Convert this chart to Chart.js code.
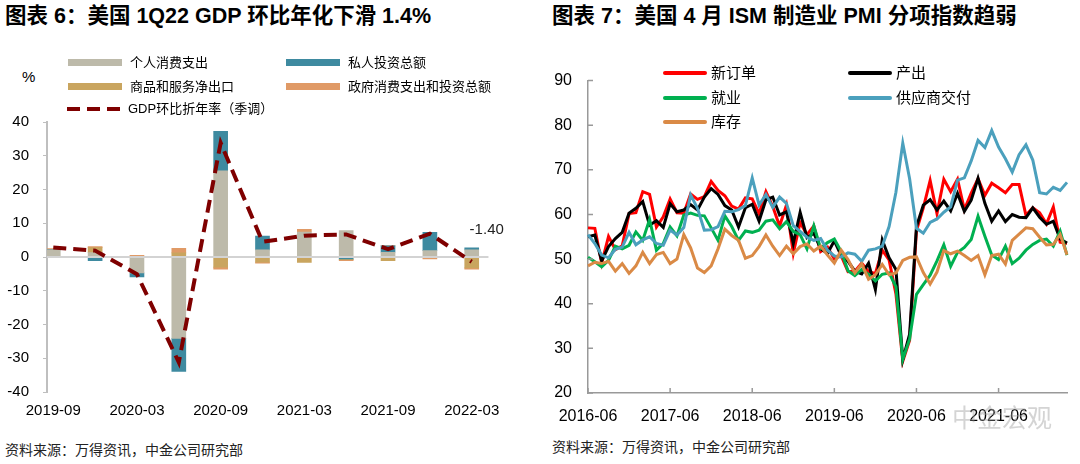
<!DOCTYPE html>
<html>
<head>
<meta charset="utf-8">
<script src="https://cdn.jsdelivr.net/npm/chart.js@4.4.1/dist/chart.umd.min.js"></script>
<style>
  body { margin: 0; width: 1080px; height: 464px; background: #fff; position: relative; overflow: hidden;
         font-family: "Liberation Sans", "Noto Sans CJK SC", sans-serif; color: #000; }
  .title { position: absolute; top: 4px; font-size: 21.5px; font-weight: bold; white-space: nowrap; line-height: 24px; }
  .source { position: absolute; font-size: 14px; color: #222; white-space: nowrap; line-height: 16px; }
  .lg { position: absolute; white-space: nowrap; line-height: 16px; }
  .sw { position: absolute; }
  canvas { position: absolute; }
  .wm { position: absolute; left: 952px; top: 398px; font-size: 25px; color: rgba(160,160,160,0.45); white-space: nowrap; }
</style>
</head>
<body>
<div class="title" style="left:5px">图表 6：美国 1Q22 GDP 环比年化下滑 1.4%</div>
<div class="title" style="left:552px">图表 7：美国 4 月 ISM 制造业 PMI 分项指数趋弱</div>

<canvas id="gdpChart" width="510" height="325" style="left:0;top:99px"></canvas>
<canvas id="pmiChart" width="540" height="370" style="left:540px;top:55px"></canvas>

<div class="lg" style="left:22px;top:69px;font-size:15px">%</div>
<div id="gdpLegend"></div>
<div id="pmiLegend"></div>

<div class="wm">中金宏观</div>
<div class="source" style="left:5px;top:442px">资料来源：万得资讯，中金公司研究部</div>
<div class="source" style="left:552px;top:439px">资料来源：万得资讯，中金公司研究部</div>

<script>
// ---- 图表 6 data (contributions, ppt) ----
const quarters = ["2019-09", "2019-12", "2020-03", "2020-06", "2020-09", "2020-12",
                  "2021-03", "2021-06", "2021-09", "2021-12", "2022-03"];
const consumption = [2.1, 1.3, -4.7, -24.1, 25.5, 2.1, 7.4, 7.8, 1.4, 1.9, 2.1];
const investment  = [0.1, -1.1, -1.2, -9.8, 11.7, 4.1, -0.1, -0.6, 1.9, 5.4, 0.6];
const netExports  = [-0.1, 1.5, 0.2, 1.2, -3.0, -1.5, -1.5, -0.2, -1.1, -0.1, -3.2];
const government  = [0.3, 0.3, 0.3, 1.4, -0.6, -0.3, 0.8, -0.3, 0.1, -0.5, -0.4];
const gdpGrowth   = [2.8, 1.9, -5.1, -31.2, 33.8, 4.5, 6.3, 6.7, 2.3, 6.9, -1.4];

// ---- 图表 7 data (ISM sub-indices, 2016-06 .. 2022-04) ----
const newOrders = [
  57.0, 56.9, 49.1, 55.1, 52.1, 53.0, 60.2,
  60.4, 65.1, 64.5, 57.2, 59.5, 63.5, 60.4, 60.3, 64.6, 63.4, 64.0, 67.4,
  65.4, 64.2, 61.9, 61.2, 63.7, 63.5, 60.2, 65.1, 61.8, 57.4, 62.1, 51.3,
  58.2, 55.5, 57.4, 51.7, 52.7, 50.0, 50.8, 47.2, 47.3, 49.1, 47.2, 46.8,
  52.0, 49.8, 42.2, 27.1, 31.8, 56.4, 61.5, 67.6, 60.2, 67.9, 65.1, 67.9,
  61.1, 64.8, 68.0, 64.3, 67.0, 66.0, 64.9, 66.7, 66.7, 59.8, 61.5, 60.4,
  57.9, 61.7, 53.8, 53.5
];
const production = [
  55.0, 55.4, 49.6, 52.8, 54.6, 56.0, 60.3,
  61.4, 62.9, 57.6, 58.6, 57.1, 62.4, 60.6, 61.0, 62.2, 61.0, 63.9, 65.8,
  64.5, 62.0, 61.0, 57.2, 61.5, 62.3, 58.5, 63.3, 63.9, 59.9, 60.6, 53.5,
  60.5, 54.8, 55.8, 52.3, 51.3, 54.1, 50.8, 49.5, 47.3, 46.7, 49.1, 43.2,
  54.3, 50.3, 47.7, 27.5, 33.2, 57.3, 62.1, 63.3, 61.0, 63.0, 60.8, 64.7,
  60.7, 63.2, 68.1, 62.5, 58.5, 60.8, 58.4, 60.0, 59.4, 59.3, 61.5, 59.4,
  57.8, 58.5, 54.5, 53.6
];
const employment = [
  50.4, 49.4, 48.3, 49.7, 52.9, 52.3, 53.1,
  56.1, 54.2, 58.9, 52.0, 53.5, 57.2, 55.2, 59.9, 60.3, 59.8, 59.7, 57.0,
  54.2, 59.7, 57.3, 54.2, 56.3, 56.0, 56.5, 58.5, 58.8, 56.8, 58.4, 56.2,
  55.5, 52.3, 57.5, 52.4, 53.7, 54.5, 51.7, 47.4, 46.3, 47.7, 46.6, 45.1,
  46.6, 46.9, 43.8, 27.5, 32.1, 42.1, 44.3, 46.4, 49.6, 53.2, 48.4, 51.5,
  52.6, 54.4, 59.6, 55.1, 50.9, 49.9, 52.9, 49.0, 50.2, 52.0, 53.3, 54.2,
  54.5, 52.9, 56.3, 50.9
];
const supplierDeliveries = [
  55.5, 53.5, 50.9, 50.3, 52.2, 52.7, 56.0,
  53.2, 54.3, 55.0, 53.5, 53.1, 56.5, 55.4, 57.1, 64.4, 61.4, 56.5, 56.6,
  57.3, 60.7, 60.6, 61.1, 62.0, 68.2, 62.1, 64.5, 61.6, 63.9, 62.5, 57.5,
  56.2, 54.9, 54.2, 54.6, 52.0, 50.7, 50.5, 51.4, 51.1, 49.5, 52.0, 52.3,
  52.9, 57.3, 65.0, 76.0, 68.0, 56.9, 55.8, 58.2, 59.0, 60.5, 61.7, 67.7,
  68.2, 72.0, 76.6, 75.0, 78.8, 75.1, 72.5, 69.5, 73.4, 75.6, 72.2, 64.9,
  64.6, 66.1, 65.4, 67.2
];
const inventories = [
  48.5, 49.3, 49.0, 49.5, 47.3, 49.0, 46.8,
  48.5, 51.5, 49.0, 51.0, 51.5, 49.0, 50.0, 55.5, 52.5, 48.0, 47.0, 48.5,
  52.3, 56.7, 55.3, 54.2, 50.2, 50.8, 52.8, 55.4, 52.9, 50.8, 52.9, 51.2,
  52.8, 53.4, 51.8, 52.9, 50.9, 49.1, 52.0, 49.9, 46.9, 48.9, 45.5, 46.5,
  48.8, 46.5, 46.9, 49.7, 50.4, 50.5, 47.0, 44.4, 47.1, 51.9, 51.2, 51.8,
  50.8, 49.7, 50.8, 46.5, 50.8, 51.1, 48.9, 54.2, 55.6, 57.0, 56.8, 54.9,
  53.2, 53.3, 55.5, 51.0
];

// month labels 2016-06 ... 2022-04
const months = [];
for (let i = 0; i < newOrders.length; i++) {
  const m = 5 + i;
  const y = 2016 + Math.floor(m / 12);
  months.push(y + "-" + String((m % 12) + 1).padStart(2, "0"));
}

const FONT = "'Liberation Sans', 'Noto Sans CJK SC', sans-serif";
Chart.defaults.font.family = FONT;
Chart.defaults.color = "#000";

const gdpColors = {
  consumption: "#BDBAAA",
  investment: "#3E8AA0",
  netExports: "#C9A55F",
  government: "#E09A66",
  gdp: "#7F0000",
};

const toXY = (vals) => vals.map((v, i) => ({ x: i, y: v }));

function barSet(label, vals, color) {
  return {
    type: "bar",
    label,
    data: toXY(vals),
    backgroundColor: color,
    borderWidth: 0,
    barThickness: 14,
    stack: "parts",
    order: 1,
  };
}

// zero line sits above bars, below the GDP line
const zeroLine = {
  id: "zeroLine",
  beforeDatasetDraw(chart, args) {
    if (args.index !== 4) return;
    const { ctx, chartArea, scales } = chart;
    const y0 = scales.y.getPixelForValue(0);
    ctx.save();
    ctx.strokeStyle = "#D3D3D3";
    ctx.lineWidth = 2;
    ctx.beginPath();
    ctx.moveTo(chartArea.left, y0);
    ctx.lineTo(chartArea.right, y0);
    ctx.stroke();
    ctx.restore();
  },
};

const lastLabel = {
  id: "lastLabel",
  afterDatasetsDraw(chart) {
    const meta = chart.getDatasetMeta(4);
    const pt = meta.data[meta.data.length - 1];
    const ctx = chart.ctx;
    ctx.save();
    ctx.font = "15px " + FONT;
    ctx.fillStyle = "#222";
    ctx.textAlign = "center";
    ctx.textBaseline = "middle";
    ctx.fillText(gdpGrowth[gdpGrowth.length - 1].toFixed(2), pt.x + 15, pt.y - 32);
    ctx.restore();
  },
};

new Chart(document.getElementById("gdpChart"), {
  type: "bar",
  data: {
    datasets: [
      barSet("个人消费支出", consumption, gdpColors.consumption),
      barSet("私人投资总额", investment, gdpColors.investment),
      barSet("商品和服务净出口", netExports, gdpColors.netExports),
      barSet("政府消费支出和投资总额", government, gdpColors.government),
      {
        type: "line",
        label: "GDP环比折年率（季调）",
        data: toXY(gdpGrowth),
        borderColor: gdpColors.gdp,
        borderWidth: 4,
        borderDash: [13, 7],
        pointRadius: 0,
        tension: 0,
        fill: false,
        stack: "gdp",
        order: 0,
      },
    ],
  },
  options: {
    responsive: false,
    animation: false,
    layout: { padding: { top: 10, right: 20, left: 0, bottom: 0 } },
    plugins: { legend: { display: false }, tooltip: { enabled: false } },
    scales: {
      x: {
        type: "linear",
        min: -0.15,
        max: 10.4,
        stacked: true,
        offset: false,
        afterBuildTicks(s) {
          s.ticks = [0, 2, 4, 6, 8, 10].map((v) => ({ value: v }));
        },
        ticks: {
          callback: (v) => quarters[v],
          font: { size: 15 },
          padding: 10,
          maxRotation: 0,
          autoSkip: false,
        },
        grid: { display: false, drawTicks: false },
        border: { display: false },
        afterFit(s) { s.height = 32; },
      },
      y: {
        min: -40,
        max: 40,
        stacked: true,
        ticks: { stepSize: 10, font: { size: 15 }, padding: 14 },
        grid: { display: true, drawOnChartArea: false, drawTicks: true, tickLength: 4, color: "#BFBFBF" },
        border: { display: true, color: "#BFBFBF", width: 2 },
        afterFit(s) { s.width = 47; },
      },
    },
  },
  plugins: [zeroLine, lastLabel],
});

// ---- 图表 7 ----
const pmiColors = ["#FF0000", "#000000", "#00B050", "#4BA0BD", "#DA8A46"];
const pmiNames = ["新订单", "产出", "就业", "供应商交付", "库存"];
const pmiSeries = [newOrders, production, employment, supplierDeliveries, inventories];

const innerTicks = {
  id: "innerTicks",
  afterDraw(chart) {
    const { ctx, chartArea, scales } = chart;
    ctx.save();
    ctx.strokeStyle = "#999";
    ctx.lineWidth = 1.5;
    ctx.beginPath();
    for (let i = 0; i < months.length; i += 12) {
      const x = scales.x.getPixelForValue(i);
      ctx.moveTo(x, chartArea.bottom);
      ctx.lineTo(x, chartArea.bottom - 5);
    }
    for (let v = 20; v <= 90; v += 10) {
      const y = scales.y.getPixelForValue(v);
      ctx.moveTo(chartArea.left, y);
      ctx.lineTo(chartArea.left + 5, y);
    }
    ctx.stroke();
    ctx.restore();
  },
};

new Chart(document.getElementById("pmiChart"), {
  type: "line",
  data: {
    labels: months,
    datasets: pmiSeries.map((vals, i) => ({
      label: pmiNames[i],
      data: vals,
      borderColor: pmiColors[i],
      borderWidth: 3,
      pointRadius: 0,
      tension: 0,
      fill: false,
      order: pmiSeries.length - i,
    })),
  },
  options: {
    responsive: false,
    animation: false,
    layout: { padding: { top: 10, right: 13, left: 0, bottom: 0 } },
    plugins: { legend: { display: false }, tooltip: { enabled: false } },
    scales: {
      x: {
        offset: false,
        ticks: {
          autoSkip: false,
          maxRotation: 0,
          callback: (v, i) => (i % 12 === 0 ? months[i] : null),
          font: { size: 16 },
          padding: 14,
        },
        grid: { display: false, drawTicks: false },
        border: { display: true, color: "#999", width: 1.5 },
        afterFit(s) { s.height = 32; },
      },
      y: {
        min: 20,
        max: 90,
        ticks: { stepSize: 10, font: { size: 16 }, padding: 16 },
        grid: { display: false, drawTicks: false },
        border: { display: true, color: "#999", width: 1.5 },
        afterFit(s) { s.width = 48; },
      },
    },
  },
  plugins: [innerTicks],
});

// ---- HTML legends ----
function legendItem(parent, swLeft, textLeft, yMid, fontSize, swCss, text) {
  const sw = document.createElement("div");
  sw.className = "sw";
  sw.style.cssText = `left:${swLeft}px;` + swCss(yMid);
  parent.appendChild(sw);
  const t = document.createElement("div");
  t.className = "lg";
  t.style.cssText = `left:${textLeft}px;top:${yMid - 8}px;font-size:${fontSize}px`;
  t.textContent = text;
  parent.appendChild(t);
}

const gdpLegend = document.getElementById("gdpLegend");
const rect = (c) => (y) => `top:${y - 4}px;width:54px;height:7px;background:${c};`;
legendItem(gdpLegend, 68, 130, 63, 13, rect(gdpColors.consumption), "个人消费支出");
legendItem(gdpLegend, 286, 348, 63, 13, rect(gdpColors.investment), "私人投资总额");
legendItem(gdpLegend, 68, 130, 87, 13, rect(gdpColors.netExports), "商品和服务净出口");
legendItem(gdpLegend, 286, 348, 87, 13, rect(gdpColors.government), "政府消费支出和投资总额");
legendItem(gdpLegend, 67, 128, 109, 13,
  (y) => `top:${y - 2}px;width:55px;height:4px;background:repeating-linear-gradient(to right, ${gdpColors.gdp} 0 13px, transparent 13px 20px);`,
  "GDP环比折年率（季调）");

const pmiLegend = document.getElementById("pmiLegend");
const lineSw = (c) => (y) => `top:${y - 2}px;width:44px;height:4px;border-radius:2px;background:${c};`;
const pmiPos = [[663, 711, 73], [848, 896, 73], [663, 711, 98], [848, 896, 98], [663, 711, 122]];
pmiNames.forEach((name, i) => {
  const [sx, tx, y] = pmiPos[i];
  legendItem(pmiLegend, sx, tx, y, 15, lineSw(pmiColors[i]), name);
});
</script>
</body>
</html>
